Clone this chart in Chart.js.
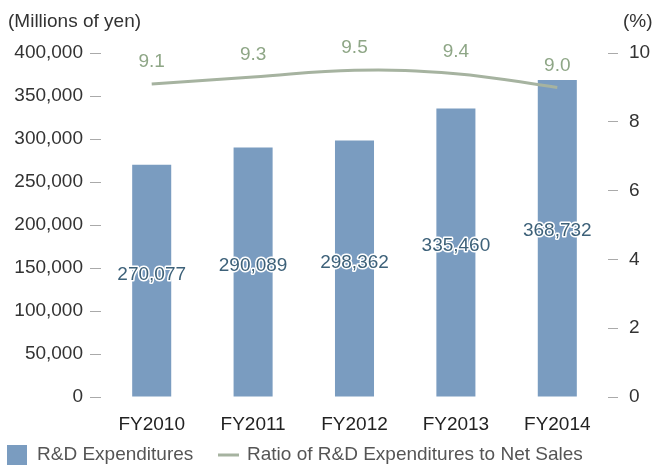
<!DOCTYPE html>
<html>
<head>
<meta charset="utf-8">
<script src="https://cdn.jsdelivr.net/npm/chart.js@4.4.1/dist/chart.umd.min.js"></script>
<style>
  html, body { margin: 0; padding: 0; background: #fff; }
  #wrap { width: 656px; height: 468px; }
</style>
</head>
<body>
<div id="wrap"><canvas id="rdChart" width="656" height="468"></canvas></div>
<script>
const years = ['FY2010', 'FY2011', 'FY2012', 'FY2013', 'FY2014'];
const rdExpenditures = [270077, 290089, 298362, 335460, 368732];
const rdRatio = [9.1, 9.3, 9.5, 9.4, 9.0];
const yenTicks = [0, 50000, 100000, 150000, 200000, 250000, 300000, 350000, 400000];
const pctTicks = [0, 2, 4, 6, 8, 10];

const FONT = '"Liberation Sans", Arial, sans-serif';
const BAR_COLOR = '#7a9cc0';
const LINE_COLOR = '#a6b3a0';

// value labels, unit captions and the legend row
const extras = {
  id: 'extras',
  afterDatasetsDraw(chart) {
    const ctx = chart.ctx;
    const yScale = chart.scales.y;
    ctx.save();
    ctx.font = '19px ' + FONT;
    ctx.textAlign = 'center';
    ctx.textBaseline = 'middle';
    ctx.lineJoin = 'round';
    chart.getDatasetMeta(1).data.forEach((bar, i) => {
      const txt = rdExpenditures[i].toLocaleString('en-US');
      const y = yScale.getPixelForValue(rdExpenditures[i] * 0.525);
      ctx.lineWidth = 3;
      ctx.strokeStyle = '#fff';
      ctx.strokeText(txt, bar.x, y);
      ctx.fillStyle = '#3d6179';
      ctx.fillText(txt, bar.x, y);
    });
    ctx.fillStyle = '#8ea686';
    chart.getDatasetMeta(0).data.forEach((pt, i) => {
      ctx.fillText(rdRatio[i].toFixed(1), pt.x, pt.y - 22);
    });
    ctx.restore();
  },
  afterDraw(chart) {
    const ctx = chart.ctx;
    ctx.save();
    ctx.font = '19px ' + FONT;
    ctx.textBaseline = 'middle';
    ctx.fillStyle = '#333';
    ctx.textAlign = 'left';
    ctx.fillText('(Millions of yen)', 8, 22);
    ctx.fillText('(%)', 623, 22);

    ctx.fillStyle = BAR_COLOR;
    ctx.fillRect(7, 445, 20, 20);
    ctx.strokeStyle = LINE_COLOR;
    ctx.lineWidth = 3;
    ctx.beginPath();
    ctx.moveTo(218, 455);
    ctx.lineTo(239, 455);
    ctx.stroke();
    ctx.fillStyle = '#555';
    ctx.fillText(chart.data.datasets[1].label, 37, 455);
    ctx.fillText(chart.data.datasets[0].label, 247, 455);
    ctx.restore();
  }
};

new Chart(document.getElementById('rdChart'), {
  data: {
    labels: years,
    datasets: [{
      type: 'line',
      label: 'Ratio of R&D Expenditures to Net Sales',
      data: rdRatio,
      yAxisID: 'y1',
      borderColor: LINE_COLOR,
      borderWidth: 3,
      pointRadius: 0,
      tension: 0.4,
      order: 0,
    }, {
      type: 'bar',
      label: 'R&D Expenditures',
      data: rdExpenditures,
      yAxisID: 'y',
      backgroundColor: BAR_COLOR,
      categoryPercentage: 1,
      barPercentage: 0.385,
      order: 1,
    }],
  },
  options: {
    responsive: false,
    animation: false,
    layout: { padding: { top: 53, left: 0, right: 0, bottom: 0 } },
    plugins: {
      legend: { display: false },
      tooltip: { enabled: false },
    },
    scales: {
      x: {
        grid: { display: false, drawTicks: false },
        border: { display: false },
        ticks: { color: '#222', font: { family: FONT, size: 19 }, padding: 16 },
        afterFit: s => { s.height = 71; },
      },
      y: {
        position: 'left',
        min: 0,
        max: 400000,
        afterBuildTicks: s => { s.ticks = yenTicks.map(v => ({ value: v })); },
        grid: { drawOnChartArea: false, tickLength: 11, color: '#aaa' },
        border: { display: false },
        ticks: {
          color: '#333',
          font: { family: FONT, size: 19 },
          padding: 7,
          callback: v => v.toLocaleString('en-US'),
        },
        afterFit: s => { s.width = 101; },
      },
      y1: {
        position: 'right',
        min: 0,
        max: 10,
        afterBuildTicks: s => { s.ticks = pctTicks.map(v => ({ value: v })); },
        grid: { drawOnChartArea: false, tickLength: 10, color: '#aaa' },
        border: { display: false },
        ticks: { color: '#333', font: { family: FONT, size: 19 }, padding: 11 },
        afterFit: s => { s.width = 48; },
      },
    },
  },
  plugins: [extras],
});
</script>
</body>
</html>
